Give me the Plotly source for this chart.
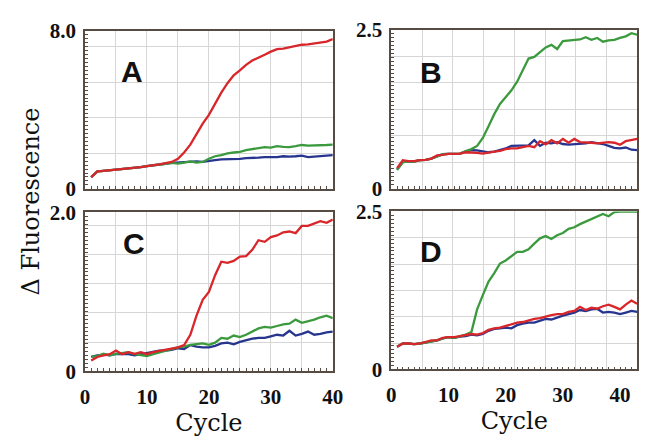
import plotly.graph_objects as go

cycles_ac = list(range(1, 41))
cycles_bd = list(range(1, 44))

a_red = [0.59,0.88,0.91,0.94,0.97,0.99,1.02,1.05,1.1,1.15,1.18,1.24,1.3,1.36,
         1.52,1.84,2.24,2.8,3.3,3.75,4.31,4.87,5.35,5.75,6.0,6.28,6.5,6.63,6.79,6.95,
         7.08,7.1,7.17,7.24,7.3,7.32,7.36,7.43,7.46,7.59]
a_green = [0.59,0.88,0.91,0.94,0.97,0.99,1.02,1.05,1.1,1.15,1.18,1.22,1.27,1.31,
           1.28,1.33,1.39,1.33,1.36,1.52,1.65,1.71,1.8,1.84,1.87,1.96,2.0,2.06,2.11,2.09,
           2.16,2.12,2.11,2.16,2.22,2.19,2.19,2.19,2.22,2.24]
a_blue = [0.59,0.88,0.91,0.94,0.97,0.99,1.02,1.05,1.1,1.15,1.18,1.22,1.27,1.31,
          1.33,1.36,1.36,1.39,1.36,1.42,1.45,1.49,1.49,1.52,1.52,1.55,1.55,1.58,1.61,1.61,
          1.61,1.65,1.63,1.65,1.68,1.61,1.63,1.65,1.68,1.71]

b_green = [0.30,0.42,0.43,0.43,0.45,0.455,0.475,0.515,0.545,0.55,0.55,0.555,0.595,0.625,0.675,
           0.8,0.985,1.175,1.335,1.45,1.55,1.685,1.875,2.05,2.075,2.15,2.225,2.265,2.2,2.325,
           2.335,2.335,2.35,2.385,2.345,2.375,2.315,2.335,2.345,2.375,2.4,2.45,2.425]
b_red = [0.325,0.45,0.435,0.435,0.45,0.455,0.475,0.525,0.535,0.55,0.55,0.555,0.575,0.575,0.565,
         0.555,0.575,0.585,0.595,0.625,0.635,0.635,0.655,0.675,0.655,0.75,0.7,0.765,0.715,0.785,
         0.725,0.785,0.735,0.735,0.725,0.715,0.725,0.735,0.725,0.695,0.75,0.765,0.785]
b_blue = [0.30,0.42,0.43,0.43,0.45,0.455,0.475,0.515,0.545,0.55,0.55,0.555,0.585,0.61,0.605,
          0.585,0.575,0.585,0.605,0.635,0.675,0.675,0.685,0.685,0.765,0.675,0.725,0.715,0.735,0.705,
          0.695,0.7,0.7,0.715,0.735,0.725,0.705,0.675,0.645,0.635,0.65,0.615,0.61]

c_red = [0.135,0.18,0.2,0.215,0.26,0.215,0.24,0.22,0.24,0.215,0.24,0.255,0.27,0.29,0.3,0.33,
         0.46,0.7,0.9,1.0,1.21,1.38,1.365,1.39,1.445,1.45,1.53,1.65,1.63,1.69,1.71,1.75,1.76,
         1.74,1.83,1.83,1.86,1.89,1.87,1.91]
c_green = [0.18,0.19,0.22,0.2,0.22,0.23,0.24,0.215,0.2,0.19,0.215,0.24,0.26,0.28,0.3,0.31,
           0.333,0.34,0.35,0.333,0.36,0.42,0.41,0.45,0.43,0.46,0.5,0.54,0.56,0.55,0.57,0.59,
           0.6,0.65,0.61,0.63,0.65,0.68,0.7,0.67]
c_blue = [0.18,0.2,0.21,0.2,0.22,0.22,0.215,0.2,0.215,0.23,0.25,0.26,0.26,0.27,0.29,0.28,
          0.33,0.31,0.3,0.3,0.32,0.35,0.36,0.34,0.37,0.39,0.41,0.42,0.42,0.44,0.46,0.45,0.51,
          0.45,0.47,0.5,0.46,0.47,0.49,0.5]

d_green = [0.36,0.41,0.41,0.4,0.41,0.425,0.45,0.46,0.49,0.51,0.5,0.525,0.55,0.59,0.95,1.175,
           1.39,1.525,1.675,1.725,1.8,1.86,1.86,1.9,1.99,2.075,2.11,2.065,2.125,2.16,2.225,2.25,
           2.3,2.34,2.39,2.425,2.46,2.425,2.49,2.5,2.5,2.5,2.5]
d_red = [0.36,0.41,0.41,0.4,0.41,0.44,0.46,0.46,0.5,0.51,0.51,0.525,0.54,0.56,0.55,0.575,
         0.625,0.65,0.66,0.69,0.71,0.74,0.75,0.775,0.8,0.81,0.84,0.86,0.875,0.875,0.91,0.925,
         0.99,0.94,0.975,0.96,1.0,1.025,0.99,0.95,1.025,1.09,1.04]
d_blue = [0.36,0.41,0.41,0.4,0.41,0.425,0.45,0.46,0.49,0.51,0.5,0.52,0.525,0.55,0.54,0.56,
          0.61,0.64,0.65,0.66,0.65,0.7,0.725,0.74,0.74,0.775,0.8,0.79,0.825,0.85,0.875,0.9,
          0.94,0.925,0.95,0.96,0.9,0.91,0.9,0.875,0.9,0.925,0.91]

panel_letters = ["A", "B", "C", "D"]
y_max = [8.0, 2.5, 2.0, 2.5]
y_max_text = ["8.0", "2.5", "2.0", "2.5"]
x_max = [40, 43, 40, 43]
x_tick_vals = [0, 10, 20, 30, 40]

RED = "#d8262a"
GREEN = "#3c9a3e"
BLUE = "#27358f"
BORDER = "#574c43"
GRID = "#d6d6d6"
SERIF = "DejaVu Serif"
TICKSERIF = "Liberation Serif"

fig = go.Figure()

panels = [
    (cycles_ac, a_blue, a_green, a_red),
    (cycles_bd, b_blue, b_green, b_red),
    (cycles_ac, c_blue, c_green, c_red),
    (cycles_bd, d_blue, d_green, d_red),
]
for i, (xs, bl, gr, rd) in enumerate(panels):
    sfx = "" if i == 0 else str(i + 1)
    for ys, col in ((bl, BLUE), (gr, GREEN), (rd, RED)):
        fig.add_trace(go.Scatter(x=xs, y=ys, mode="lines",
                                 line=dict(color=col, width=2.3),
                                 xaxis="x" + sfx, yaxis="y" + sfx,
                                 showlegend=False, hoverinfo="skip"))

W, H = 656, 440
boxes = [  # left, right, top, bottom in pixels
    (82, 336, 20, 187),
    (396, 648, 19, 187),
    (82, 336, 212, 380),
    (396, 648, 211, 378),
]
y_grid_step = [1.8, 2.5 / 6, 0.368, 2.5 / 6]
y_minor_step = [0.2, 0.0625, 0.05, 0.0625]

layout = {}
for i in range(4):
    l, r, t, b = boxes[i]
    sfx = "" if i == 0 else str(i + 1)
    xm = x_max[i]
    ym = y_max[i]
    bottom_row = i >= 2
    xgrid = [xm * k / 8 for k in range(1, 8)]
    ygrid = []
    k = 1
    while y_grid_step[i] * k < ym - 1e-6:
        ygrid.append(y_grid_step[i] * k)
        k += 1
    xt = list(range(0, xm + 1))
    xtt = [(str(v) if (bottom_row and v in x_tick_vals) else "") for v in xt]
    nyt = int(round(ym / y_minor_step[i]))
    yt = [y_minor_step[i] * j for j in range(nyt + 1)]
    ytt = [""] * len(yt)
    ytt[0] = "0"
    ytt[-1] = y_max_text[i]
    layout["xaxis" + sfx] = dict(
        domain=[l / W, r / W], anchor="y" + sfx, range=[0, xm],
        tickmode="array", tickvals=xt, ticktext=xtt, ticks="inside", ticklen=3,
        tickcolor=BORDER, tickwidth=1, showgrid=False, zeroline=False,
        showline=True, linecolor=BORDER, linewidth=1.6, mirror=True,
        tickfont=dict(family=TICKSERIF, size=21, color="#111", weight="bold"),
        ticklabelstandoff=6,
        minor=dict(tickmode="array", tickvals=xgrid, showgrid=True, gridcolor=GRID,
                   gridwidth=1, ticks=""),
        title=dict(text="Cycle" if bottom_row else "",
                   font=dict(family=SERIF, size=24, color="#111"), standoff=0),
    )
    layout["yaxis" + sfx] = dict(
        domain=[1 - b / H, 1 - t / H], anchor="x" + sfx, range=[0, ym],
        tickmode="array", tickvals=yt, ticktext=ytt, ticks="inside", ticklen=3,
        tickcolor=BORDER, tickwidth=1, showgrid=False, zeroline=False,
        showline=True, linecolor=BORDER, linewidth=1.6, mirror=True,
        tickfont=dict(family=TICKSERIF, size=21, color="#111", weight="bold"),
        ticklabelstandoff=3,
        minor=dict(tickmode="array", tickvals=ygrid, showgrid=True, gridcolor=GRID,
                   gridwidth=1, ticks=""),
    )

letter_pos = [(130, 63), (437, 64), (132, 245), (437, 253)]
annotations = []
for (px, py), txt in zip(letter_pos, panel_letters):
    annotations.append(dict(text=txt, x=px / W, y=1 - py / H, xref="paper", yref="paper",
                            showarrow=False, xanchor="center", yanchor="middle",
                            font=dict(family="Liberation Sans", size=30, color="#111",
                                      weight="bold")))
annotations.append(dict(text="Δ Fluorescence", x=27 / W, y=1 - 200 / H,
                        xref="paper", yref="paper", showarrow=False, textangle=-90,
                        xanchor="center", yanchor="middle",
                        font=dict(family=SERIF, size=24, color="#111")))

fig.update_layout(
    width=W, height=H, margin=dict(l=0, r=0, t=0, b=0),
    paper_bgcolor="white", plot_bgcolor="white",
    annotations=annotations, **layout,
)

fig.write_html("out.html")
